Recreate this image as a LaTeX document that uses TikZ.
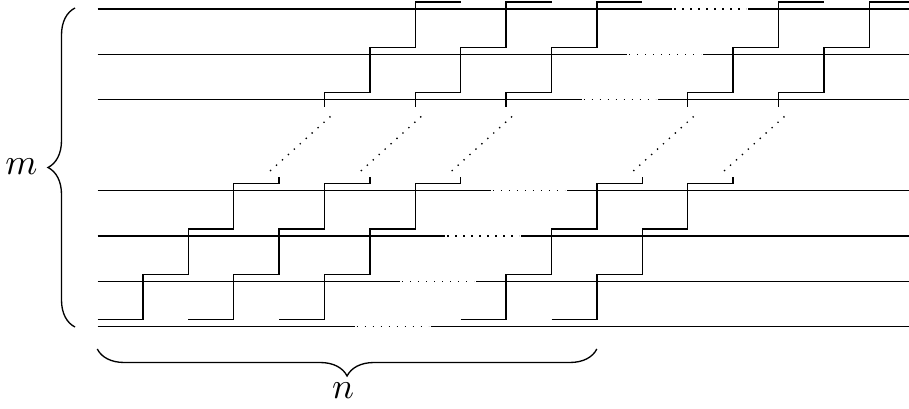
\documentclass[tikz,border=0pt]{standalone}
\usetikzlibrary{decorations.pathreplacing,calc}
\begin{document}
\begin{tikzpicture}[x=0.3pt,y=-0.3pt,
  rail/.style={line width=0.4pt},
  stair/.style={line width=0.4pt},
  gapdots/.style={line width=0.4pt,dotted},
  bracestyle/.style={line width=0.4pt,decorate,decoration={brace,amplitude=8.1pt}},
  lbl/.style={inner sep=0pt,font=\fontsize{10.8}{13}\selectfont}]
\useasboundingbox (0,0) rectangle (909,409);
\def\s{45.4}
\def\xo{97.5}
\def\d{7}
\def\ybot{326.7}
% rails with dotted gaps
\foreach \i in {0,1,2,3,5,6,7}{
  \pgfmathsetmacro\y{\ybot-\i*\s}
  \pgfmathsetmacro\c{392.6+\i*\s}
  \draw[rail] (\xo,\y) -- (\c-38,\y);
  \draw[gapdots] (\c-36,\y) -- (\c+36,\y);
  \draw[rail] (\c+38,\y) -- (909,\y);
}
% staircases
\foreach \k in {0,1,2,4,5}{
  \pgfmathsetmacro\xa{\xo+2*\k*\s}
  \pgfmathsetmacro\ya{\ybot-\d}
  \pgfmathsetmacro\yb{\ybot-\s-\d}
  \pgfmathsetmacro\yc{\ybot-2*\s-\d}
  \pgfmathsetmacro\yd{\ybot-3*\s-\d}
  \pgfmathsetmacro\yf{\ybot-5*\s-\d}
  \pgfmathsetmacro\yg{\ybot-6*\s-\d}
  \pgfmathsetmacro\yh{\ybot-7*\s-\d}
  \draw[stair] (\xa,\ya) -| (\xa+\s,\yb) -| (\xa+2*\s,\yc) -| (\xa+3*\s,\yd) -| (\xa+4*\s,\yd-6.5);
  \draw[stair] (\xa+5*\s,\yf+2*\d) -- (\xa+5*\s,\yf) -| (\xa+6*\s,\yg) -| (\xa+7*\s,\yh) -- (\xa+8*\s,\yh);
  \draw[gapdots] (\xa+4*\s-9,\yd-12.5) -- (\xa+5*\s+9,\yf+2*\d+7);
}
% braces
\coordinate (mtop) at (75,8);
\coordinate (mbot) at (75,327);
\coordinate (nleft) at (97.3,349);
\coordinate (nright) at (596.8,349);
\draw[bracestyle] (mbot) -- (mtop);
\draw[bracestyle] (nright) -- (nleft);
\node[lbl] (m) at (21.5,167) {$m$};
\node[lbl] (n) at (343,391) {$n$};
\end{tikzpicture}
\end{document}
